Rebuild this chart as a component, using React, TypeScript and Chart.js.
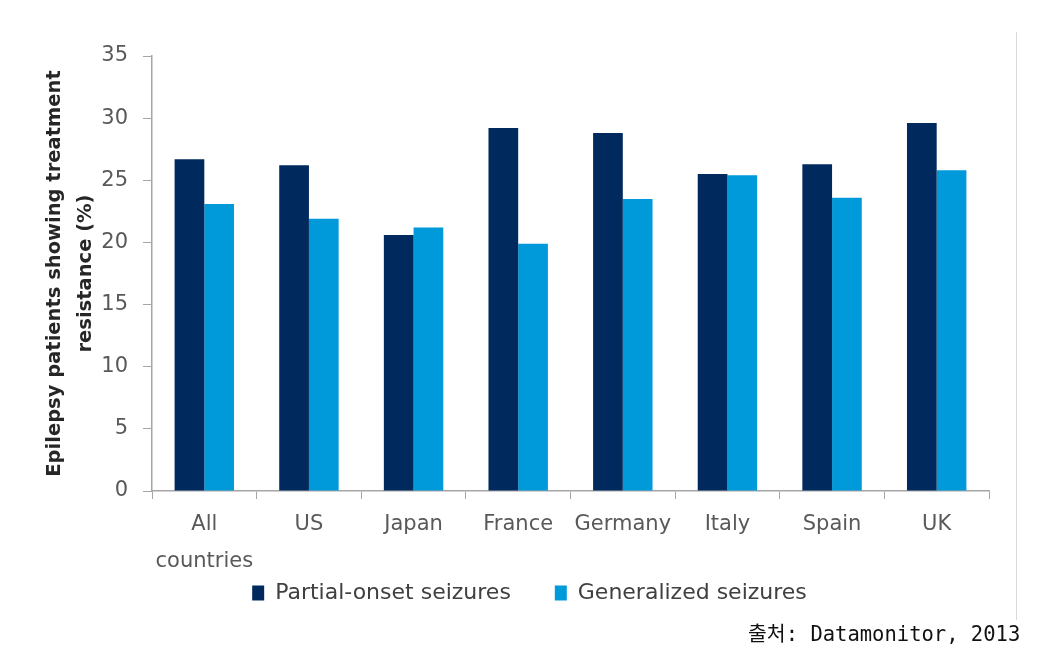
import React, { useEffect, useRef } from "react";
import { Chart, registerables } from "chart.js";

Chart.register(...registerables);

const categories: (string | string[])[] = [["All", "countries"], "US", "Japan", "France", "Germany", "Italy", "Spain", "UK"];
const partialOnset = [26.7, 26.2, 20.6, 29.2, 28.8, 25.5, 26.3, 29.6];
const generalized = [23.1, 21.9, 21.2, 19.9, 23.5, 25.4, 23.6, 25.8];
const seriesNames = ["Partial-onset seizures", "Generalized seizures"];
const yTitle = ["Epilepsy patients showing treatment", "resistance (%)"];
const yMin = 0;
const yMax = 35;
const yStep = 5;
const sourceText = "출처: Datamonitor, 2013";

const DARK = "#002a5e";
const LIGHT = "#0099da";
const AXIS = "#a6a6a6";
const TICK_TXT = "#595959";
const FONT = "'DejaVu Sans', sans-serif";
const LEGEND_GAP = "     ";

export default function App() {
  const ref = useRef<HTMLCanvasElement | null>(null);

  useEffect(() => {
    if (!ref.current) return;
    const chart = new Chart(ref.current, {
      type: "bar",
      data: {
        labels: categories,
        datasets: [
          { label: seriesNames[0], data: partialOnset, backgroundColor: DARK, borderWidth: 0 },
          { label: seriesNames[1], data: generalized, backgroundColor: LIGHT, borderWidth: 0 },
        ],
      },
      options: {
        animation: false,
        responsive: true,
        maintainAspectRatio: false,
        layout: { padding: { top: 56, right: 67, left: 70, bottom: 42 } },
        datasets: { bar: { barPercentage: 1, categoryPercentage: 0.568 } },
        plugins: {
          tooltip: { enabled: false },
          legend: {
            position: "bottom",
            align: "center",
            labels: {
              boxWidth: 12,
              boxHeight: 15,
              padding: 9,
              color: "#404040",
              font: { family: FONT, size: 22 },
              generateLabels: (c: any) =>
                Chart.defaults.plugins.legend.labels
                  .generateLabels(c)
                  .map((l: any, i: number, arr: any[]) => (i < arr.length - 1 ? { ...l, text: l.text + LEGEND_GAP } : l)),
            },
          },
        },
        scales: {
          x: {
            afterFit: (s: any) => { s.height = 82; },
            grid: { display: true, drawOnChartArea: false, drawTicks: true, tickLength: 8, color: AXIS, offset: true },
            border: { display: true, color: AXIS, width: 1.5 },
            ticks: {
              color: TICK_TXT,
              padding: 7,
              maxRotation: 0,
              autoSkip: false,
              font: { family: FONT, size: 21, lineHeight: 1.76 },
            },
          },
          y: {
            min: yMin,
            max: yMax,
            afterFit: (s: any) => { s.width = 82; },
            grid: { display: true, drawOnChartArea: false, drawTicks: true, tickLength: 9, color: AXIS },
            border: { display: true, color: AXIS, width: 1.5 },
            ticks: {
              stepSize: yStep,
              color: TICK_TXT,
              padding: 15,
              font: { family: FONT, size: 21 },
            },
            title: {
              display: true,
              text: yTitle,
              color: "#262626",
              padding: { top: -30.5, bottom: 0 },
              font: { family: FONT, size: 19.5, weight: "bold", lineHeight: 1.59 },
            },
          },
        },
      },
    });
    return () => chart.destroy();
  }, []);

  return (
    <div style={{ position: "absolute", left: 0, top: 0, width: 1056, height: 656, background: "#fff", overflow: "hidden" }}>
      <canvas ref={ref} />
      <div style={{ position: "absolute", left: 1016, top: 32, width: 1, height: 588, background: "#d9d9d9" }} />
      <div
        style={{
          position: "absolute",
          left: 748,
          top: 621,
          fontFamily: "'DejaVu Sans Mono', 'Noto Sans CJK KR', monospace",
          fontSize: 20.5,
          lineHeight: "26px",
          color: "#111",
          whiteSpace: "pre",
        }}
      >
        {sourceText}
      </div>
    </div>
  );
}
